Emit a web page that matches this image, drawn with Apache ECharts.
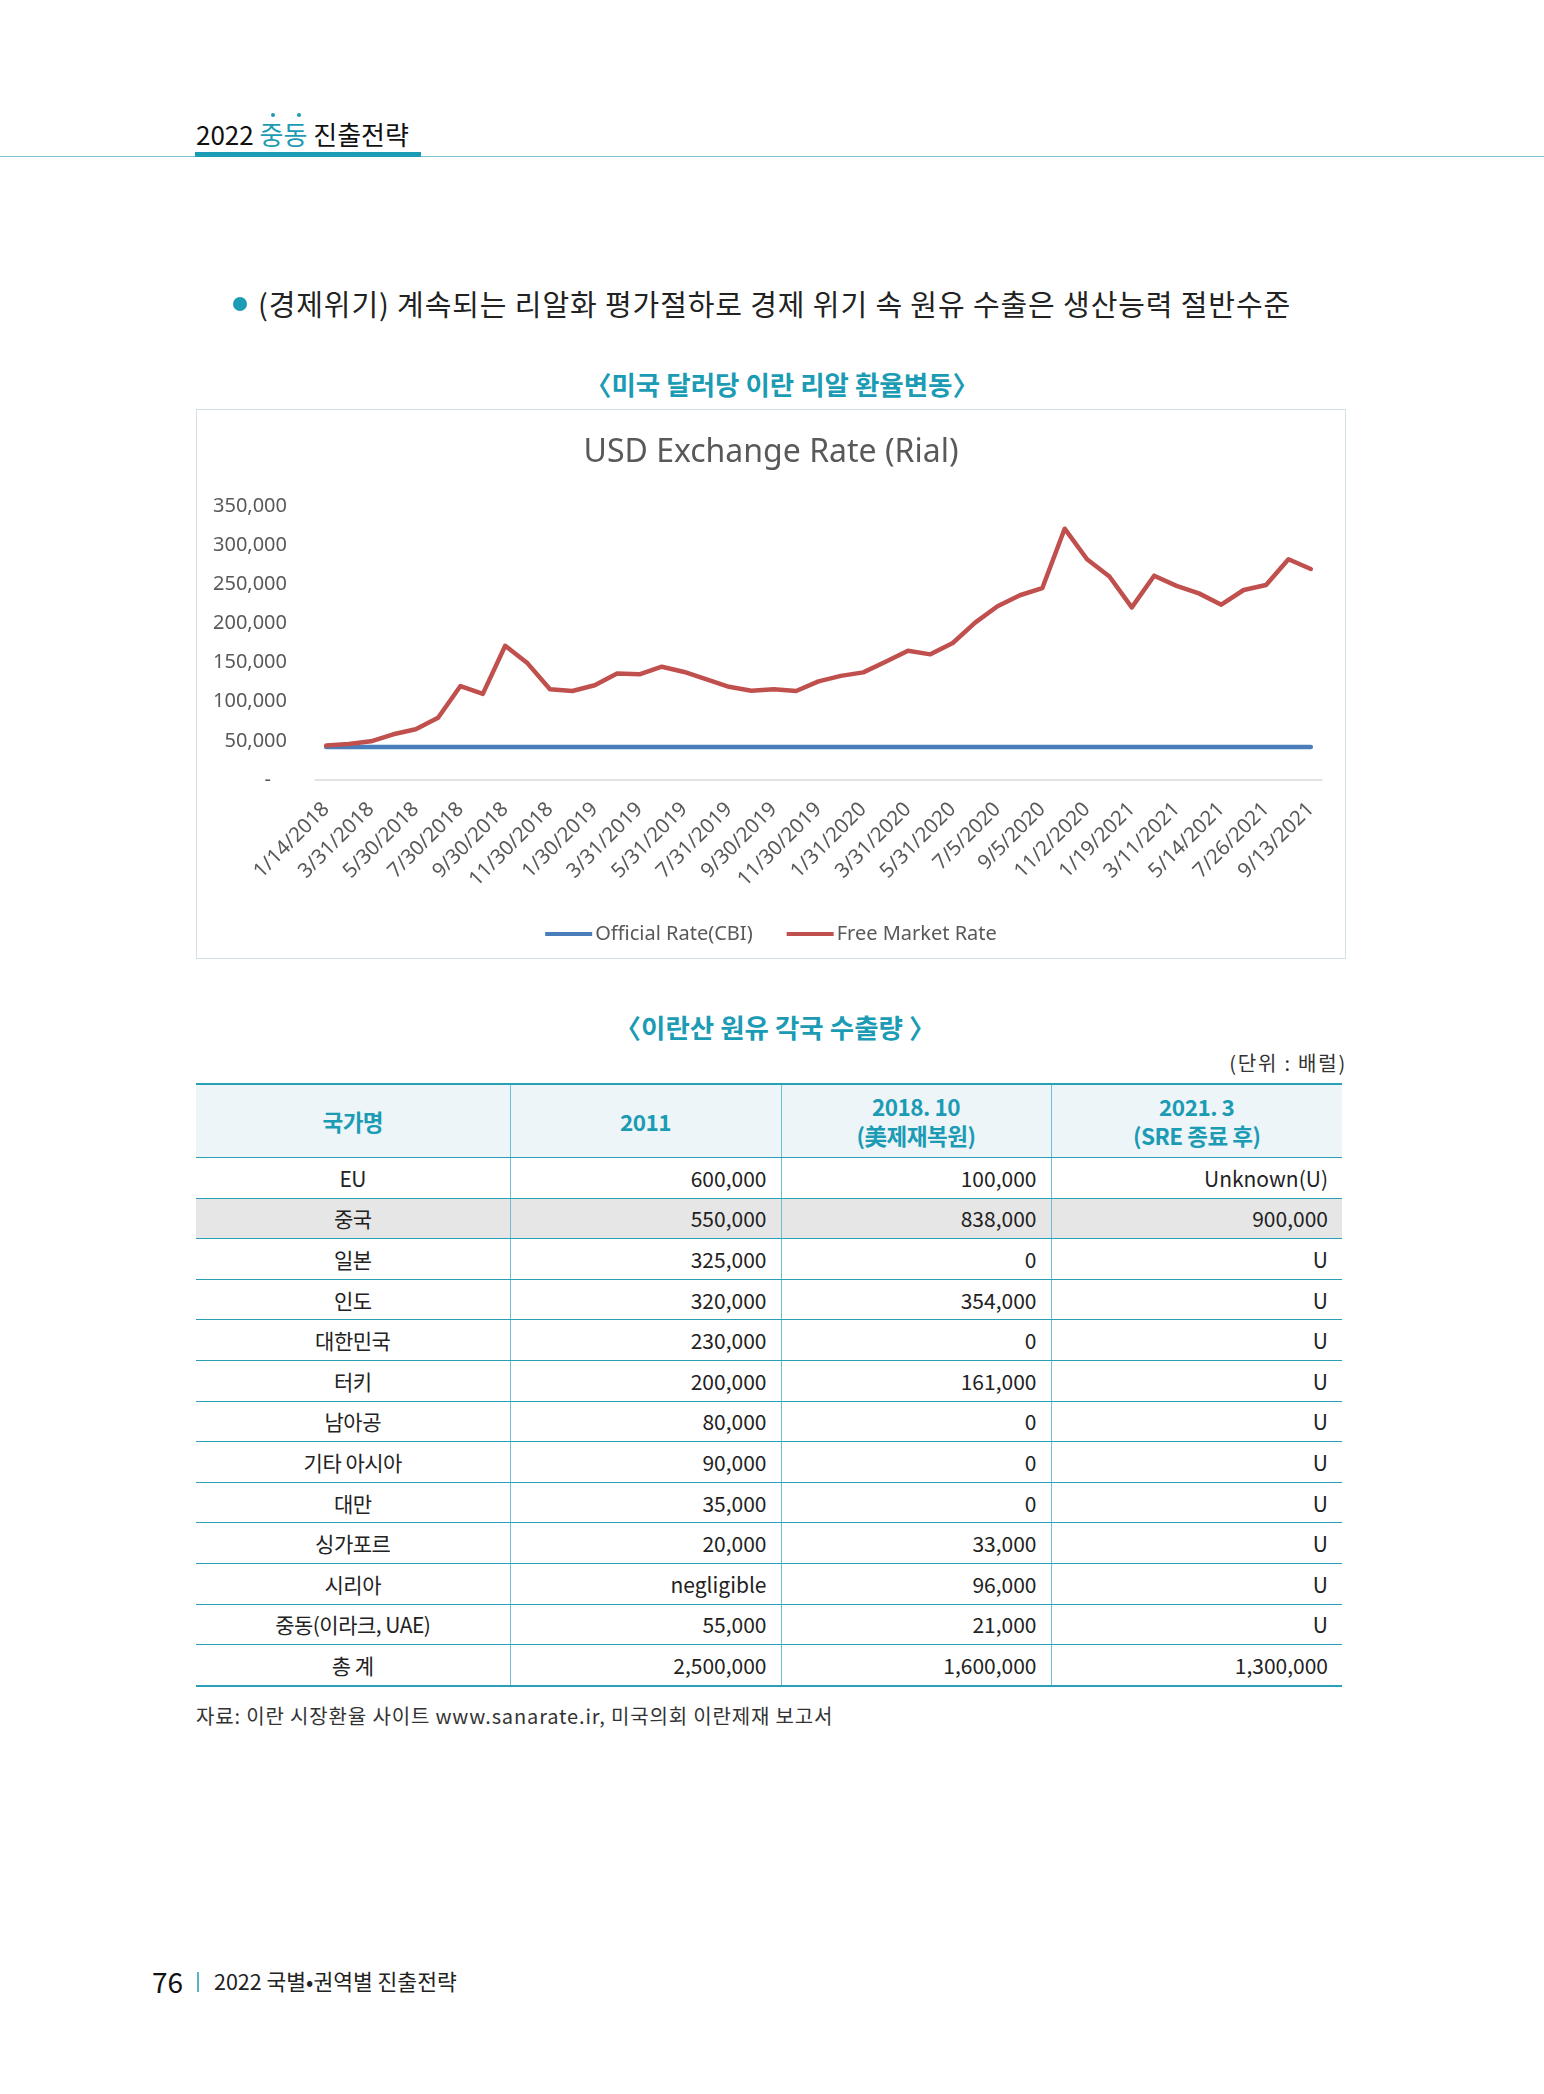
<!DOCTYPE html>
<html>
<head>
<meta charset="utf-8">
<script src="https://cdn.jsdelivr.net/npm/echarts@6/dist/echarts.min.js"></script>
<style>
  html, body { margin: 0; padding: 0; background: #fff; }
  body { width: 1544px; height: 2094px; position: relative; overflow: hidden;
         font-family: "Noto Sans CJK KR", "Noto Sans", sans-serif; color: #222; }
  .abs { position: absolute; white-space: nowrap; }
  #hdr { left: 196px; top: 116px; font-size: 26px; line-height: 36px; color: #111; }
  #hdr .t { color: #1b9bb4; position: relative; }
  .dot { position: absolute; width: 4px; height: 4px; border-radius: 2px; background: #1b9bb4; top: -2px; }
  #hdrLine { left: 0; top: 156px; width: 1544px; height: 1px; background: #7cc3d1; }
  #hdrBar { left: 195px; top: 152px; width: 226px; height: 5px; background: #1b9bb4; }
  #bullet { left: 233px; top: 297px; width: 14px; height: 14px; border-radius: 7px; background: #1b9bb4; }
  #lead { left: 258px; top: 283px; font-size: 29px; line-height: 40px; color: #222; letter-spacing: 0.9px; }
  .ttl { font-size: 26.5px; font-weight: 700; color: #1b9bb4; line-height: 34px; text-align: center; }
  #chartBox { position: absolute; left: 196px; top: 409px; width: 1150px; height: 550px;
              box-sizing: border-box; border: 1px solid #d3e0e6; }
  #chart { position: absolute; left: 0; top: 0; width: 1148px; height: 548px; }
  #unit { right: 197px; top: 1048px; font-size: 20px; line-height: 30px; color: #333; letter-spacing: 1.8px; }
  table { position: absolute; left: 196px; top: 1083px; width: 1146px; border-collapse: collapse;
          font-size: 21px; letter-spacing: -0.5px; }
  th { background: #edf5f9; color: #1b9bb4; font-weight: 700; height: 70px; font-size: 22.5px; line-height: 29px;
       border-top: 2px solid #2aa0b7; border-bottom: 1px solid #2aa0b7; }
  td { height: 39.6px; padding: 0 11px; border-bottom: 1px solid #2aa0b7; color: #222; }
  th + th, td + td { border-left: 1px solid #6cc0d0; }
  td.c { text-align: center; }
  td.r { text-align: right; padding-right: 14px; letter-spacing: 0; }
  tr.gray td { background: #e6e6e6; }
  tr.last td { border-bottom: 2px solid #2aa0b7; }
  #src { left: 196px; top: 1701px; font-size: 20px; line-height: 30px; color: #333; letter-spacing: 0.85px; }
  #pg { left: 152px; top: 1962px; font-size: 28px; line-height: 38px; color: #111; }
  #pgBar { left: 197px; top: 1972px; width: 2px; height: 20px; background: #5ab4c5; }
  #pgT { left: 214px; top: 1966px; font-size: 21.5px; line-height: 30px; color: #222; }
</style>
</head>
<body>
<div class="abs" id="hdr">2022 <span class="t">중동<span class="dot" style="left:11px"></span><span class="dot" style="left:37px"></span></span> 진출전략</div>
<div class="abs" id="hdrLine"></div>
<div class="abs" id="hdrBar"></div>
<div class="abs" id="bullet"></div>
<div class="abs" id="lead">(경제위기) 계속되는 리알화 평가절하로 경제 위기 속 원유 수출은 생산능력 절반수준</div>
<div class="abs ttl" style="left:582px; top:367px; width:400px;">〈미국 달러당 이란 리알 환율변동〉</div>
<div id="chartBox"><div id="chart"></div></div>
<div class="abs ttl" style="left:575px; top:1010px; width:400px;">〈이란산 원유 각국 수출량 〉</div>
<div class="abs" id="unit">(단위 : 배럴)</div>
<table id="tbl"></table>
<div class="abs" id="src">자료: 이란 시장환율 사이트 www.sanarate.ir, 미국의회 이란제재 보고서</div>
<div class="abs" id="pg">76</div>
<div class="abs" id="pgBar"></div>
<div class="abs" id="pgT">2022 국별•권역별 진출전략</div>

<script>
// ---- Chart data ----
const dates = ['1/14/2018','2/28/2018','3/31/2018','4/30/2018','5/30/2018','6/30/2018','7/30/2018','8/30/2018',
  '9/30/2018','10/30/2018','11/30/2018','12/30/2018','1/30/2019','2/28/2019','3/31/2019','4/30/2019',
  '5/31/2019','6/30/2019','7/31/2019','8/31/2019','9/30/2019','10/31/2019','11/30/2019','12/31/2019',
  '1/31/2020','2/29/2020','3/31/2020','4/30/2020','5/31/2020','6/15/2020','7/5/2020','8/5/2020',
  '9/5/2020','10/5/2020','11/2/2020','12/10/2020','1/19/2021','2/15/2021','3/11/2021','4/12/2021',
  '5/14/2021','6/20/2021','7/26/2021','8/20/2021','9/13/2021'];
const officialRate = [42000,42000,42000,42000,42000,42000,42000,42000,42000,42000,42000,42000,42000,42000,42000,
  42000,42000,42000,42000,42000,42000,42000,42000,42000,42000,42000,42000,42000,42000,42000,
  42000,42000,42000,42000,42000,42000,42000,42000,42000,42000,42000,42000,42000,42000,42000];
const freeMarketRate = [44000,46000,49400,58400,64800,79600,120000,110000,171500,149000,116000,113700,121000,136000,135000,
  144700,138000,128600,119000,114000,116000,113700,126000,133000,137500,151000,165000,160500,175000,201000,
  222000,236000,245000,321000,282000,260000,220500,261000,248000,238400,224000,242700,249000,282000,269500];
const yTicks = { min: 0, max: 350000, interval: 50000 };

// ---- Table data ----
const tableHeaders = ['국가명', '2011', '2018. 10<br>(美제재복원)', '2021. 3<br>(SRE 종료 후)'];
const countries = ['EU','중국','일본','인도','대한민국','터키','남아공','기타 아시아','대만','싱가포르','시리아','중동(이라크, UAE)','총 계'];
const exports2011 = ['600,000','550,000','325,000','320,000','230,000','200,000','80,000','90,000','35,000','20,000','negligible','55,000','2,500,000'];
const exports2018 = ['100,000','838,000','0','354,000','0','161,000','0','0','0','33,000','96,000','21,000','1,600,000'];
const exports2021 = ['Unknown(U)','900,000','U','U','U','U','U','U','U','U','U','U','1,300,000'];

// build table
(function () {
  const t = document.getElementById('tbl');
  let html = '<colgroup><col style="width:314px"><col style="width:271px"><col style="width:270px"><col style="width:291px"></colgroup>';
  html += '<tr>' + tableHeaders.map(h => '<th>' + h + '</th>').join('') + '</tr>';
  countries.forEach((c, i) => {
    const cls = (i === 1 ? 'gray' : '') + (i === countries.length - 1 ? ' last' : '');
    html += '<tr class="' + cls + '"><td class="c">' + c + '</td><td class="r">' + exports2011[i] +
      '</td><td class="r">' + exports2018[i] + '</td><td class="r">' + exports2021[i] + '</td></tr>';
  });
  t.innerHTML = html;
})();

// build chart
const chart = echarts.init(document.getElementById('chart'), null, { renderer: 'canvas' });
const grey = '#595959';
chart.setOption({
  animation: false,
  title: {
    text: 'USD Exchange Rate (Rial)', left: 'center', top: 27, padding: 0,
    textStyle: { fontFamily: 'Noto Sans', fontSize: 32, fontWeight: 400, color: grey }
  },
  legend: {
    top: 509, left: 'center', icon: 'rect', itemWidth: 47, itemHeight: 4, itemGap: 34,
    textStyle: { fontFamily: 'Noto Sans', fontSize: 20, color: grey, padding: [0, 0, 0, -2] },
    data: ['Official Rate(CBI)', 'Free Market Rate']
  },
  grid: { left: 118, right: 23, top: 96, bottom: 178, containLabel: false },
  xAxis: {
    type: 'category', data: dates, boundaryGap: true,
    axisLine: { show: true, lineStyle: { color: '#d9d9d9', width: 1.5 } },
    axisTick: { show: false },
    axisLabel: { interval: 1, rotate: 45, margin: 26, fontFamily: 'Noto Sans', fontSize: 20.5, color: grey }
  },
  yAxis: {
    type: 'value', min: yTicks.min, max: yTicks.max, interval: yTicks.interval,
    axisLine: { show: false }, axisTick: { show: false }, splitLine: { show: false },
    axisLabel: {
      margin: 28, fontFamily: 'Noto Sans', fontSize: 20, color: grey,
      formatter: v => v === 0 ? '{z|-}' : v.toLocaleString('en-US'),
      rich: { z: { fontFamily: 'Noto Sans', fontSize: 20, color: grey, padding: [0, 16, 0, 0] } }
    }
  },
  series: [
    { name: 'Official Rate(CBI)', type: 'line', data: officialRate, symbol: 'none',
      lineStyle: { color: '#4a7ebb', width: 4.5, cap: 'round' }, itemStyle: { color: '#4a7ebb' } },
    { name: 'Free Market Rate', type: 'line', data: freeMarketRate, symbol: 'none',
      lineStyle: { color: '#c0504d', width: 4.5, cap: 'round', join: 'round' }, itemStyle: { color: '#c0504d' } }
  ]
});
</script>
</body>
</html>
